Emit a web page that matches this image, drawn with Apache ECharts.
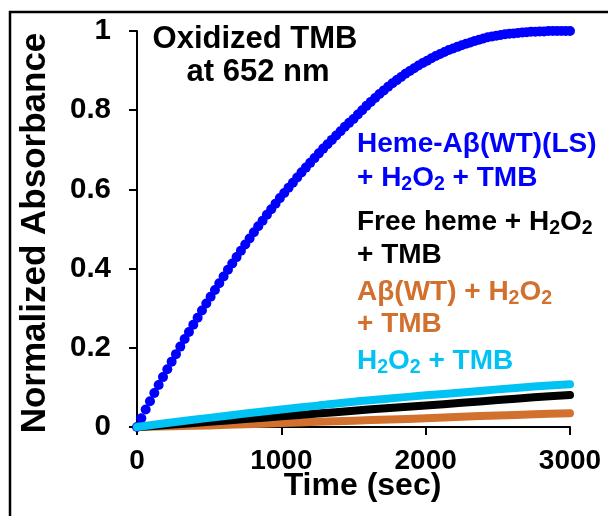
<!DOCTYPE html>
<html>
<head>
<meta charset="utf-8">
<title>Oxidized TMB at 652 nm</title>
<script src="https://cdn.jsdelivr.net/npm/echarts@6/dist/echarts.min.js"></script>
<style>
  html, body { margin: 0; padding: 0; background: #ffffff; }
  #chart { width: 608px; height: 516px; }
</style>
</head>
<body>
<div id="chart"></div>
<script>
// Kinetics of TMB oxidation, followed as normalized absorbance at 652 nm.

// Heme-Aβ(WT)(LS) trace, sampled every 30 s
const hemeAbTimes = [
  0, 30, 60, 90, 120, 150, 180, 210, 240, 270,
  300, 330, 360, 390, 420, 450, 480, 510, 540, 570,
  600, 630, 660, 690, 720, 750, 780, 810, 840, 870,
  900, 930, 960, 990, 1020, 1050, 1080, 1110, 1140, 1170,
  1200, 1230, 1260, 1290, 1320, 1350, 1380, 1410, 1440, 1470,
  1500, 1530, 1560, 1590, 1620, 1650, 1680, 1710, 1740, 1770,
  1800, 1830, 1860, 1890, 1920, 1950, 1980, 2010, 2040, 2070,
  2100, 2130, 2160, 2190, 2220, 2250, 2280, 2310, 2340, 2370,
  2400, 2430, 2460, 2490, 2520, 2550, 2580, 2610, 2640, 2670,
  2700, 2730, 2760, 2790, 2820, 2850, 2880, 2910, 2940, 2970,
  3000
];
const hemeAbValues = [
  0.000, 0.022, 0.044, 0.065, 0.086, 0.106, 0.126, 0.146, 0.165, 0.184,
  0.203, 0.222, 0.240, 0.258, 0.276, 0.294, 0.312, 0.329, 0.346, 0.363,
  0.380, 0.397, 0.413, 0.429, 0.445, 0.461, 0.476, 0.492, 0.507, 0.521,
  0.536, 0.550, 0.564, 0.578, 0.591, 0.604, 0.617, 0.630, 0.643, 0.655,
  0.667, 0.679, 0.691, 0.703, 0.714, 0.725, 0.736, 0.747, 0.758, 0.768,
  0.778, 0.789, 0.800, 0.811, 0.821, 0.831, 0.841, 0.850, 0.859, 0.868,
  0.876, 0.884, 0.892, 0.899, 0.906, 0.913, 0.919, 0.925, 0.931, 0.937,
  0.942, 0.947, 0.952, 0.956, 0.960, 0.964, 0.968, 0.971, 0.975, 0.978,
  0.981, 0.984, 0.986, 0.988, 0.990, 0.992, 0.993, 0.994, 0.995, 0.996,
  0.997, 0.998, 0.998, 0.999, 0.999, 1.000, 1.000, 1.000, 1.000, 1.000,
  1.000
];

// Control traces, sampled every 250 s
const controlTimes = [0, 250, 500, 750, 1000, 1250, 1500, 1750, 2000, 2250, 2500, 2750, 3000];
const freeHemeValues = [0, 0.006, 0.013, 0.020, 0.027, 0.034, 0.041, 0.048, 0.054, 0.061, 0.068, 0.075, 0.081];
const abOnlyValues   = [0, 0.002, 0.004, 0.007, 0.010, 0.013, 0.016, 0.019, 0.022, 0.026, 0.029, 0.032, 0.035];
const h2o2OnlyValues = [0, 0.012, 0.023, 0.034, 0.044, 0.054, 0.064, 0.072, 0.080, 0.087, 0.095, 0.102, 0.108];

const seriesNames = [
  'Heme-Aβ(WT)(LS) + H2O2 + TMB',
  'Free heme + H2O2 + TMB',
  'Aβ(WT) + H2O2 + TMB',
  'H2O2 + TMB'
];

const xTickLabels = ['0', '1000', '2000', '3000'];
const yTickLabels = ['0', '0.2', '0.4', '0.6', '0.8', '1'];

const BLUE = '#0000ff';
const BLACK = '#000000';
const ORANGE = '#d2702e';
const CYAN = '#00c3f3';
const FONT = '"Liberation Sans", Arial, Helvetica, sans-serif';

function pairs(xs, ys) {
  return xs.map((x, i) => [x, ys[i]]);
}

// Multi-line labels; segments flagged true are subscripts
const labelLines = [
  { color: BLUE,   y: 144, parts: [['Heme-Aβ(WT)(LS)', false]] },
  { color: BLUE,   y: 178, parts: [['+ H', false], ['2', true], ['O', false], ['2', true], [' + TMB', false]] },
  { color: BLACK,  y: 222, parts: [['Free heme + H', false], ['2', true], ['O', false], ['2', true]] },
  { color: BLACK,  y: 255, parts: [['+ TMB', false]] },
  { color: ORANGE, y: 292, parts: [['Aβ(WT) + H', false], ['2', true], ['O', false], ['2', true]] },
  { color: ORANGE, y: 324, parts: [['+ TMB', false]] },
  { color: CYAN,   y: 361, parts: [['H', false], ['2', true], ['O', false], ['2', true], [' + TMB', false]] }
];

function richLine(line) {
  return {
    type: 'text',
    x: 357,
    y: line.y,
    z: 50,
    style: {
      text: line.parts.map(p => '{' + (p[1] ? 's' : 'm') + '|' + p[0] + '}').join(''),
      align: 'left',
      verticalAlign: 'middle',
      fill: line.color,
      rich: {
        m: { fontSize: 28, fontWeight: 'bold', fontFamily: FONT, fill: line.color, lineHeight: 34 },
        s: { fontSize: 19.5, fontWeight: 'bold', fontFamily: FONT, fill: line.color, lineHeight: 16, verticalAlign: 'bottom' }
      }
    }
  };
}

const chart = echarts.init(document.getElementById('chart'), null, { renderer: 'canvas' });

const axisCommon = {
  type: 'value',
  splitLine: { show: false },
  axisLine: { show: true, onZero: false, lineStyle: { color: '#000', width: 2 } },
  axisTick: { show: true, inside: false, length: 8, lineStyle: { color: '#000', width: 2 } }
};

chart.setOption({
  animation: false,
  backgroundColor: '#ffffff',
  grid: { left: 137, right: 38, top: 31, bottom: 89, containLabel: false, outerBoundsMode: 'none' },
  xAxis: Object.assign({}, axisCommon, {
    min: 0, max: 3000, interval: 1000,
    name: 'Time (sec)',
    nameLocation: 'middle',
    nameGap: 43,
    nameMoveOverlap: false,
    nameTextStyle: { fontSize: 32, fontWeight: 'bold', color: '#000', fontFamily: FONT, padding: [0, 0, 0, 18] },
    axisLabel: {
      fontSize: 28, fontWeight: 'bold', color: '#000', fontFamily: FONT, margin: 20,
      formatter: v => xTickLabels[Math.round(v / 1000)]
    }
  }),
  yAxis: Object.assign({}, axisCommon, {
    min: 0, max: 1, interval: 0.2,
    name: 'Normalized Absorbance',
    nameLocation: 'middle',
    nameRotate: 90,
    nameGap: 84,
    nameMoveOverlap: false,
    nameTextStyle: { fontSize: 35, fontWeight: 'bold', color: '#000', fontFamily: FONT, padding: [0, 8, 0, 0] },
    axisLabel: {
      fontSize: 29.5, fontWeight: 'bold', color: '#000', fontFamily: FONT, margin: 26,
      formatter: v => yTickLabels[Math.round(v / 0.2)]
    }
  }),
  series: [
    {
      name: seriesNames[0],
      type: 'scatter',
      data: pairs(hemeAbTimes, hemeAbValues),
      symbol: 'circle',
      symbolSize: 10,
      itemStyle: { color: BLUE, opacity: 1, borderWidth: 0 },
      emphasis: { disabled: true },
      z: 2
    },
    {
      name: seriesNames[2],
      type: 'line',
      data: pairs(controlTimes, abOnlyValues),
      smooth: 0.3,
      showSymbol: false,
      lineStyle: { color: ORANGE, width: 8, cap: 'round', join: 'round' },
      itemStyle: { color: ORANGE },
      z: 3
    },
    {
      name: seriesNames[1],
      type: 'line',
      data: pairs(controlTimes, freeHemeValues),
      smooth: 0.3,
      showSymbol: false,
      lineStyle: { color: BLACK, width: 8, cap: 'round', join: 'round' },
      itemStyle: { color: BLACK },
      z: 4
    },
    {
      name: seriesNames[3],
      type: 'line',
      data: pairs(controlTimes, h2o2OnlyValues),
      smooth: 0.3,
      showSymbol: false,
      lineStyle: { color: CYAN, width: 8, cap: 'round', join: 'round' },
      itemStyle: { color: CYAN },
      z: 5
    }
  ],
  graphic: [
    // frame around the figure
    {
      type: 'polyline',
      z: 60,
      shape: { points: [[10, 516], [10, 12], [608, 12]] },
      style: { stroke: '#000', lineWidth: 2.5, fill: null }
    },
    {
      type: 'text',
      x: 255, y: 39, z: 50,
      style: { text: 'Oxidized TMB', align: 'center', verticalAlign: 'middle', fill: '#000', font: 'bold 31px ' + FONT }
    },
    {
      type: 'text',
      x: 258, y: 72, z: 50,
      style: { text: 'at 652 nm', align: 'center', verticalAlign: 'middle', fill: '#000', font: 'bold 31px ' + FONT }
    }
  ].concat(labelLines.map(richLine))
});
</script>
</body>
</html>
